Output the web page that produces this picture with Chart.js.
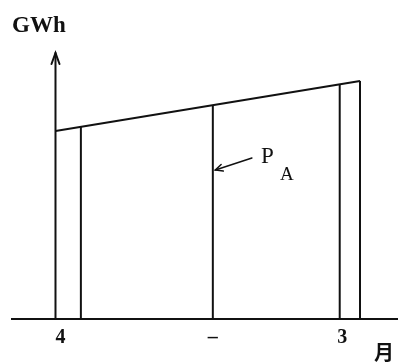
<!DOCTYPE html>
<html>
<head>
<meta charset="utf-8">
<script src="https://cdn.jsdelivr.net/npm/chart.js@4.4.0/dist/chart.umd.min.js"></script>
<style>
  html, body { margin: 0; padding: 0; background: #fff; }
</style>
</head>
<body>
<canvas id="paChart" width="398" height="364"></canvas>
<script>
// months counted from the start of April (0) to the end of March (12)
const lineMonths = [0, 12];
const lineGWh = [70.7, 89.5];
const dividerMonths = [1, 6.2, 11.2, 12];
const dividerGWh = [72.3, 80.3, 88.2, 89.5];
const tickMonths = [0.2, 6.2, 11.3, 12.95];
const tickLabels = ['4', '–', '3', ['', '月']];
const axisTopGWh = 100;

const ink = '#111';

// P_A pointer, in month / GWh units
const pointerFrom = [7.74, 60.5];
const pointerTo = [6.3, 56];
const labelAt = [8.1, 58.7];

const datasets = [{
    data: lineMonths.map((m, i) => ({ x: m, y: lineGWh[i] })),
    borderColor: ink,
    borderWidth: 2
}];
dividerMonths.forEach((m, i) => {
    datasets.push({
        data: [{ x: m, y: 0 }, { x: m, y: dividerGWh[i] }],
        borderColor: ink,
        borderWidth: 2
    });
});

const sketchPlugin = {
    id: 'sketch',
    afterDatasetsDraw(chart) {
        const xs = chart.scales.x, ys = chart.scales.y, c = chart.ctx;
        const ax = xs.getPixelForValue(0);
        const y0 = ys.getPixelForValue(0);
        const yt = ys.getPixelForValue(axisTopGWh);
        c.save();
        c.strokeStyle = ink;
        c.fillStyle = ink;
        c.lineWidth = 2;
        c.lineCap = 'round';

        // y axis with arrow
        c.beginPath();
        c.moveTo(ax, y0);
        c.lineTo(ax, yt);
        c.stroke();
        c.beginPath();
        c.moveTo(ax - 4, yt + 11);
        c.lineTo(ax, yt);
        c.lineTo(ax + 4, yt + 11);
        c.stroke();

        // pointer to the P_A line
        const fx = xs.getPixelForValue(pointerFrom[0]), fy = ys.getPixelForValue(pointerFrom[1]);
        const tx = xs.getPixelForValue(pointerTo[0]), ty = ys.getPixelForValue(pointerTo[1]);
        c.lineWidth = 1.5;
        c.beginPath();
        c.moveTo(fx, fy);
        c.lineTo(tx, ty);
        c.stroke();
        const ang = Math.atan2(ty - fy, tx - fx);
        c.beginPath();
        c.moveTo(tx - 8 * Math.cos(ang - 0.45), ty - 8 * Math.sin(ang - 0.45));
        c.lineTo(tx, ty);
        c.lineTo(tx - 8 * Math.cos(ang + 0.45), ty - 8 * Math.sin(ang + 0.45));
        c.stroke();

        // label P with subscript A
        const lx = xs.getPixelForValue(labelAt[0]), ly = ys.getPixelForValue(labelAt[1]);
        c.textBaseline = 'alphabetic';
        c.font = '23px "Liberation Serif"';
        c.fillText('P', lx, ly);
        c.font = '19px "Liberation Serif"';
        c.fillText('A', lx + 19, ly + 17);
        c.restore();
    }
};

new Chart(document.getElementById('paChart'), {
    type: 'scatter',
    data: { datasets: datasets },
    plugins: [sketchPlugin],
    options: {
        responsive: false,
        animation: false,
        devicePixelRatio: 1,
        showLine: true,
        elements: { point: { radius: 0 } },
        layout: { padding: { left: 12, right: 0, top: 0, bottom: 0 } },
        plugins: {
            legend: { display: false },
            tooltip: { enabled: false },
            title: {
                display: true,
                text: 'GWh',
                align: 'start',
                color: ink,
                font: { family: '"Liberation Serif"', size: 23, weight: 'bold', lineHeight: 1.2 },
                padding: { top: 12, bottom: 5.4 }
            }
        },
        scales: {
            x: {
                type: 'linear',
                min: -1.714,
                max: 13.497,
                grid: { display: false, drawTicks: false },
                border: { display: true, color: ink, width: 2 },
                afterBuildTicks(scale) {
                    scale.ticks = tickMonths.map(v => ({ value: v }));
                },
                ticks: {
                    color: ink,
                    padding: 1.5,
                    autoSkip: false,
                    maxRotation: 0,
                    font(ctx) {
                        if (ctx.index === tickMonths.length - 1) {
                            return { family: '"Noto Sans CJK JP"', size: 20, weight: 'bold', lineHeight: '21px' };
                        }
                        return { family: '"Liberation Serif"', size: 20, weight: 'bold', lineHeight: '35px' };
                    },
                    callback(value) {
                        const i = tickMonths.indexOf(value);
                        return i >= 0 ? tickLabels[i] : '';
                    }
                }
            },
            y: {
                display: false,
                min: 0,
                max: 103
            }
        }
    }
});
</script>
</body>
</html>
